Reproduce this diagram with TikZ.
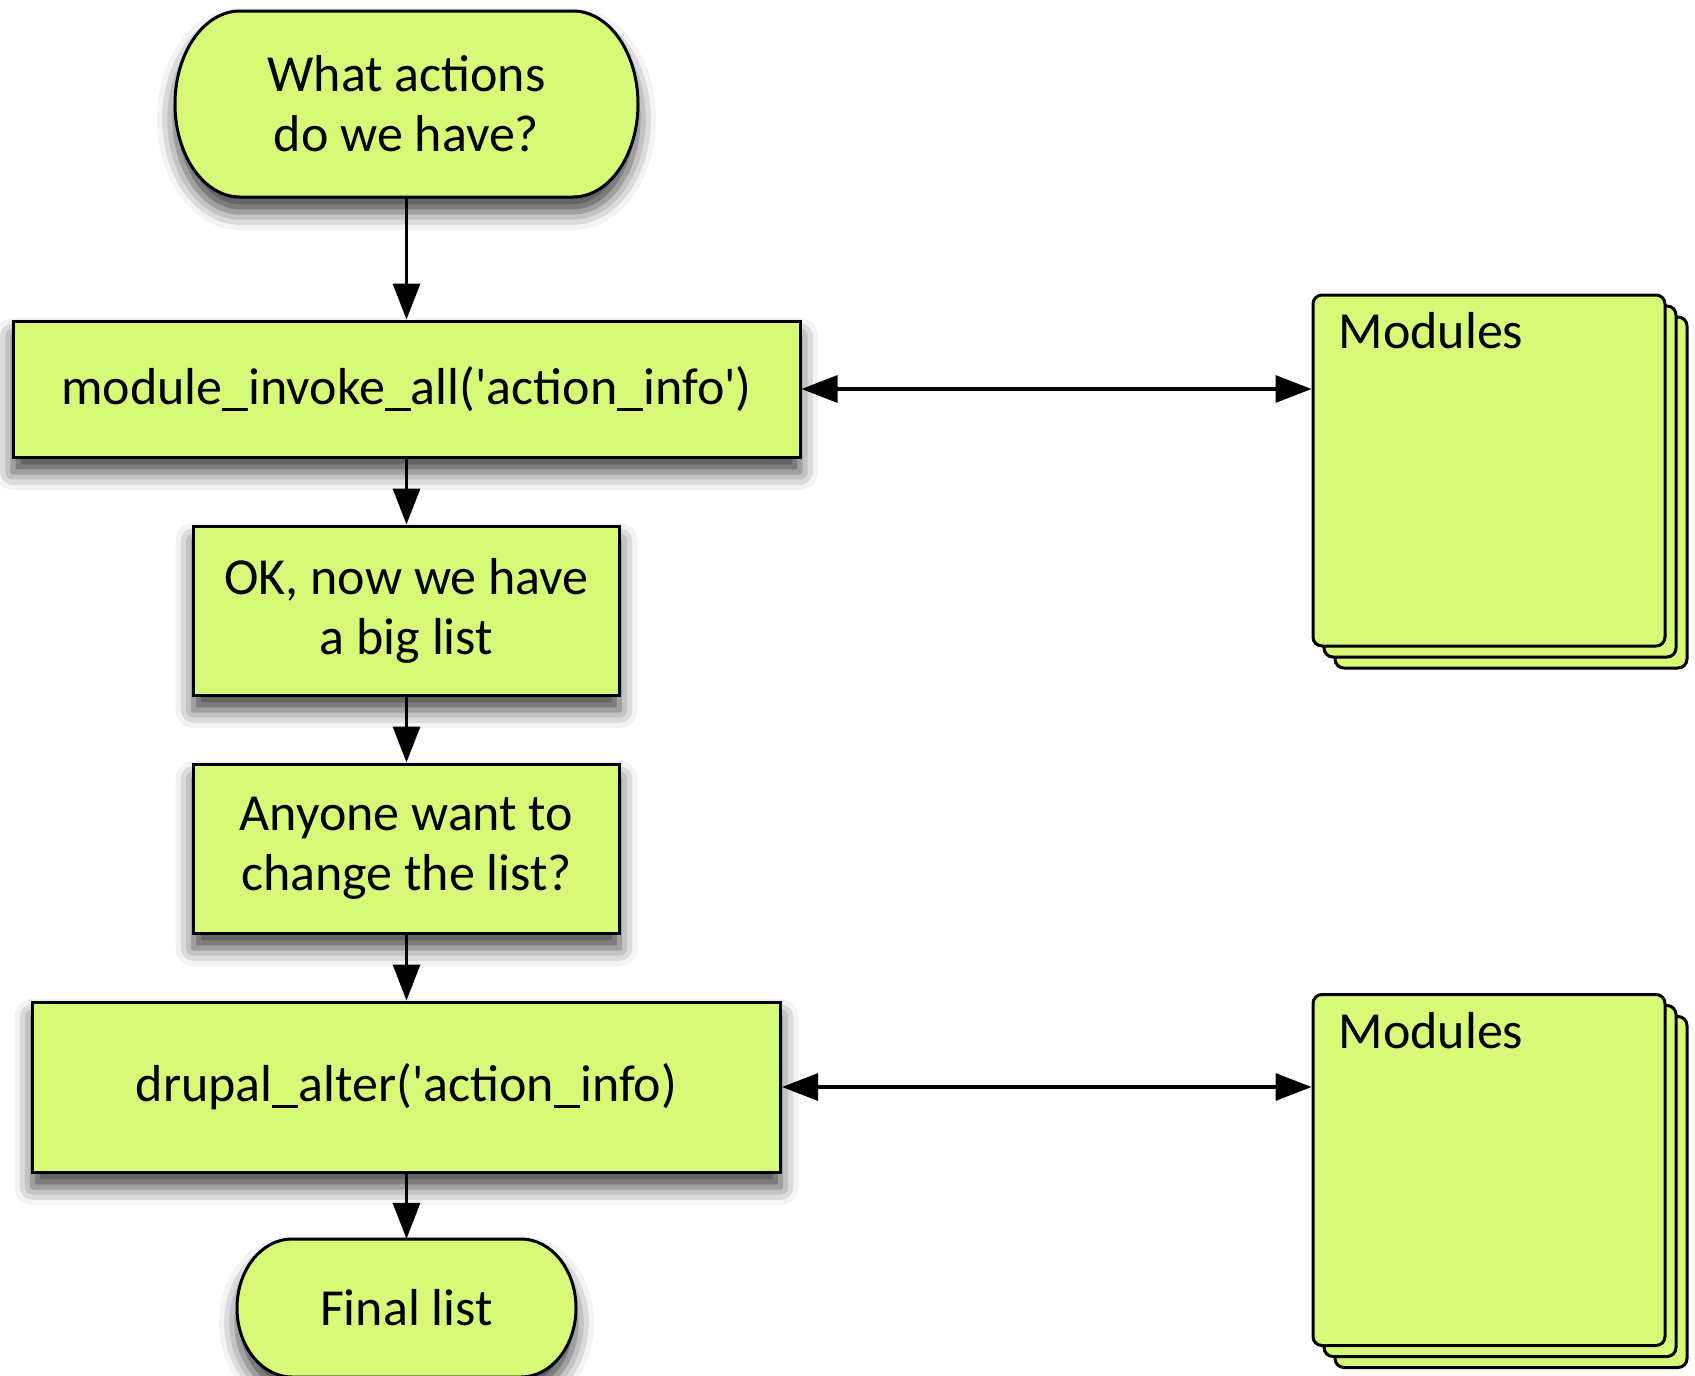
\documentclass[tikz,border=0pt]{standalone}
\usepackage{fontspec}
\setmainfont{Carlito}
\usetikzlibrary{arrows.meta,shadows.blur}
\definecolor{boxgreen}{RGB}{214,250,120}
\tikzset{
  shadowed/.style={blur shadow={shadow xshift=0pt, shadow yshift=-15pt, shadow blur radius=18pt, shadow opacity=75}},
  shape outline/.style={draw=black, line width=3pt, fill=boxgreen, shadowed},
  proc/.style={shape outline, rectangle, inner sep=0pt, align=center, font=\fontsize{52}{60}\selectfont},
  termtext/.style={rectangle, inner sep=0pt, align=center, font=\fontsize{52}{60}\selectfont},
  modbox/.style={draw=black, line width=3pt, fill=boxgreen, rounded corners=9pt,
    minimum width=352pt, minimum height=351pt, inner sep=0pt},
  modtext/.style={font=\fontsize{52}{60}\selectfont, inner sep=0pt, anchor=base west},
  conn/.style={draw=black, line width=3.2pt, -{Triangle[length=36pt,width=27pt,fill=black]}},
  biconn/.style={draw=black, line width=3.2pt, {Triangle[length=36pt,width=27pt,fill=black]}-{Triangle[length=36pt,width=27pt,fill=black]}}
}
\begin{document}
\begin{tikzpicture}[x=1pt,y=-1pt]
\useasboundingbox (0,0) rectangle (1695,1376);
% terminal outlines (semi-elliptic ends)
\path[shape outline] (240,11) -- (573,11)
  .. controls (573+35.9,11) and (638,104-51.4) .. (638,104)
  .. controls (638,104+51.4) and (573+35.9,197) .. (573,197)
  -- (240,197)
  .. controls (240-35.9,197) and (175,104+51.4) .. (175,104)
  .. controls (175,104-51.4) and (240-35.9,11) .. cycle;
\path[shape outline] (292,1239) -- (521,1239)
  .. controls (521+30.4,1239) and (576,1308-38.1) .. (576,1308)
  .. controls (576,1308+38.1) and (521+30.4,1377) .. (521,1377)
  -- (292,1377)
  .. controls (292-30.4,1377) and (237,1308+38.1) .. (237,1308)
  .. controls (237,1308-38.1) and (292-30.4,1239) .. cycle;
% flow
\node[termtext, minimum width=463pt, minimum height=186pt] (start) at (406.5,104) {What actions\\do we have?};
\node[proc, minimum width=787pt, minimum height=136pt] (b1) at (406.5,389) {module\_invoke\_all(\textquotesingle action\_info\textquotesingle)};
\node[proc, minimum width=426pt, minimum height=169pt] (b2) at (406.5,610.5) {OK, now we have\\a big list};
\node[proc, minimum width=426pt, minimum height=169pt] (b3) at (406.5,848.5) {Anyone want to\\change the list?};
\node[proc, minimum width=748pt, minimum height=170pt] (b4) at (406.5,1087) {drupal\_alter(\textquotesingle action\_info)};
\node[termtext, minimum width=339pt, minimum height=138pt] (final) at (406.5,1308) {Final list};
% module stacks
\node[modbox] (m1c) at (1511,492.5) {};
\node[modbox] (m1b) at (1500,481.5) {};
\node[modbox] (m1) at (1489,470.5) {};
\node[modtext] (m1t) at ([xshift=27pt,yshift=-55pt]m1.north west) {Modules};
\node[modbox] (m2c) at (1511,1192) {};
\node[modbox] (m2b) at (1500,1181) {};
\node[modbox] (m2) at (1489,1170) {};
\node[modtext] (m2t) at ([xshift=27pt,yshift=-55pt]m2.north west) {Modules};
% connectors
\draw[conn] (start) -- (b1);
\draw[conn] (b1) -- (b2);
\draw[conn] (b2) -- (b3);
\draw[conn] (b3) -- (b4);
\draw[conn] (b4) -- (final);
\draw[biconn] (b1.east) -- (b1.east -| m1.west);
\draw[biconn] (b4.east) -- (b4.east -| m2.west);
\end{tikzpicture}
\end{document}
